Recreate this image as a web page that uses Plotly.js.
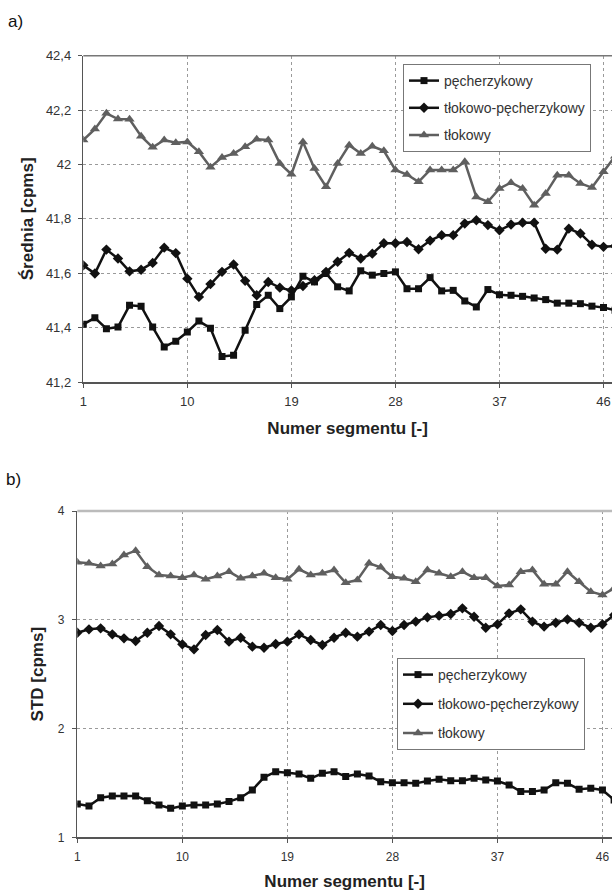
<!DOCTYPE html>
<html>
<head>
<meta charset="utf-8">
<script src="https://cdn.plot.ly/plotly-3.0.1.min.js"></script>
<style>html,body{margin:0;padding:0;background:#fff;}#chart{width:612px;height:892px;}</style>
</head>
<body>
<div id="chart"></div>
<script>
const segments = [1,2,3,4,5,6,7,8,9,10,11,12,13,14,15,16,17,18,19,20,21,22,23,24,25,26,27,28,29,30,31,32,33,34,35,36,37,38,39,40,41,42,43,44,45,46,47];
const seriesNames = ["pęcherzykowy", "tłokowo-pęcherzykowy", "tłokowy"];

// a) Średnia [cpms]
const meanPecherzykowy = [41.412,41.436,41.396,41.402,41.482,41.479,41.402,41.329,41.35,41.384,41.424,41.398,41.294,41.298,41.39,41.485,41.519,41.47,41.513,41.589,41.568,41.599,41.55,41.535,41.609,41.593,41.599,41.605,41.543,41.543,41.584,41.535,41.537,41.498,41.476,41.54,41.521,41.519,41.515,41.509,41.503,41.49,41.49,41.488,41.479,41.474,41.464];
const meanTlokowoPecherzykowy = [41.629,41.599,41.687,41.654,41.607,41.613,41.638,41.694,41.674,41.58,41.513,41.56,41.605,41.632,41.572,41.519,41.568,41.547,41.537,41.553,41.574,41.605,41.642,41.675,41.654,41.672,41.71,41.71,41.715,41.688,41.72,41.74,41.74,41.783,41.795,41.777,41.758,41.779,41.786,41.786,41.69,41.687,41.764,41.746,41.705,41.697,41.70];
const meanTlokowy = [42.09,42.13,42.188,42.167,42.166,42.104,42.063,42.09,42.08,42.083,42.047,41.99,42.026,42.04,42.065,42.093,42.09,42.004,41.964,42.083,41.985,41.918,42.004,42.071,42.04,42.067,42.05,41.98,41.963,41.936,41.98,41.98,41.98,42.01,41.88,41.863,41.912,41.933,41.912,41.85,41.893,41.96,41.96,41.93,41.915,41.973,42.03];

// b) STD [cpms]
const stdPecherzykowy = [1.306,1.288,1.364,1.38,1.38,1.38,1.337,1.297,1.266,1.288,1.297,1.297,1.306,1.328,1.364,1.435,1.551,1.603,1.594,1.582,1.542,1.588,1.603,1.56,1.582,1.564,1.511,1.502,1.502,1.496,1.518,1.533,1.521,1.521,1.542,1.527,1.518,1.481,1.42,1.42,1.435,1.502,1.496,1.441,1.45,1.435,1.343];
const stdTlokowoPecherzykowy = [2.881,2.912,2.921,2.866,2.829,2.805,2.881,2.943,2.866,2.774,2.728,2.86,2.906,2.799,2.835,2.753,2.743,2.777,2.799,2.866,2.814,2.768,2.835,2.88,2.845,2.891,2.952,2.897,2.952,2.983,3.022,3.038,3.053,3.105,3.028,2.927,2.958,3.059,3.096,2.983,2.937,2.973,3.004,2.973,2.927,2.958,3.044];
const stdTlokowy = [3.528,3.519,3.494,3.513,3.595,3.635,3.488,3.412,3.402,3.387,3.412,3.372,3.402,3.442,3.381,3.402,3.427,3.387,3.372,3.464,3.412,3.427,3.458,3.34,3.366,3.519,3.482,3.396,3.381,3.35,3.458,3.427,3.396,3.442,3.387,3.387,3.31,3.32,3.442,3.458,3.326,3.326,3.442,3.35,3.258,3.228,3.29];

const xTickVals = [1,10,19,28,37,46];
const xTickText = ["1","10","19","28","37","46"];
const meanTickVals = [41.2,41.4,41.6,41.8,42,42.2,42.4];
const meanTickText = ["41,2","41,4","41,6","41,8","42","42,2","42,4"];
const stdTickVals = [1,2,3,4];
const stdTickText = ["1","2","3","4"];

const FONT = "Arial, 'Liberation Sans', sans-serif";
const styles = [
  {color:"#111111", symbol:"square", size:7},
  {color:"#111111", symbol:"diamond", size:8},
  {color:"#5f5f5f", symbol:"triangle-up", size:9}
];

function mk(y, i, xa, ya, legend) {
  return {
    x: segments, y: y, name: seriesNames[i], type: "scatter", mode: "lines+markers",
    xaxis: xa, yaxis: ya, legend: legend, legendgroup: legend + i,
    line: {color: styles[i].color, width: 2.5},
    marker: {color: styles[i].color, symbol: styles[i].symbol, size: styles[i].size},
    cliponaxis: true
  };
}

const traces = [
  mk(meanPecherzykowy, 0, "x", "y", "legend"),
  mk(meanTlokowoPecherzykowy, 1, "x", "y", "legend"),
  mk(meanTlokowy, 2, "x", "y", "legend"),
  mk(stdPecherzykowy, 0, "x2", "y2", "legend2"),
  mk(stdTlokowoPecherzykowy, 1, "x2", "y2", "legend2"),
  mk(stdTlokowy, 2, "x2", "y2", "legend2")
];

const H = 892, W = 612;
const axCommon = {
  showgrid: true, gridcolor: "#9a9a9a", griddash: "dot", gridwidth: 1,
  showline: true, linecolor: "#555", linewidth: 1.5,
  ticks: "outside", ticklen: 4, tickcolor: "#555", tickwidth: 1,
  zeroline: false, fixedrange: true
};

const legendCommon = {
  xanchor: "left", yanchor: "top", bgcolor: "#fff", bordercolor: "#777", borderwidth: 1,
  font: {family: FONT, size: 14, color: "#333"}, traceorder: "grouped",
  itemwidth: 30
};

const layout = {
  width: W, height: H, margin: {l: 0, r: 0, t: 0, b: 0},
  paper_bgcolor: "#fff", plot_bgcolor: "#fff", showlegend: true,
  xaxis: Object.assign({}, axCommon, {
    domain: [83.3/W, 1], range: [1, 1 + (W - 83.3)/11.56], anchor: "y",
    tickmode: "array", tickvals: xTickVals, ticktext: xTickText,
    tickfont: {family: FONT, size: 13, color: "#333"}, ticklabelstandoff: 3,
    title: {text: "<b>Numer segmentu [-]</b>", font: {family: FONT, size: 17, color: "#222"}, standoff: 14}
  }),
  yaxis: Object.assign({}, axCommon, {
    domain: [1 - 382/H, 1 - 55.7/H], range: [41.2, 42.4], anchor: "x",
    tickmode: "array", tickvals: meanTickVals, ticktext: meanTickText,
    tickfont: {family: FONT, size: 13, color: "#333"}, ticklabelstandoff: 4,
    title: {text: "<b>Średnia [cpms]</b>", font: {family: FONT, size: 17, color: "#222"}, standoff: 8}
  }),
  xaxis2: Object.assign({}, axCommon, {
    domain: [77.3/W, 1], range: [1, 1 + (W - 77.3)/11.67], anchor: "y2",
    tickmode: "array", tickvals: xTickVals, ticktext: xTickText,
    tickfont: {family: FONT, size: 12, color: "#333"}, ticklabelstandoff: 4,
    title: {text: "<b>Numer segmentu [-]</b>", font: {family: FONT, size: 17, color: "#222"}, standoff: 12}
  }),
  yaxis2: Object.assign({}, axCommon, {
    domain: [1 - 837.3/H, 1 - 511/H], range: [1, 4], anchor: "x2",
    tickmode: "array", tickvals: stdTickVals, ticktext: stdTickText,
    tickfont: {family: FONT, size: 12, color: "#333"}, ticklabelstandoff: 5,
    title: {text: "<b>STD [cpms]</b>", font: {family: FONT, size: 17, color: "#222"}, standoff: 10}
  }),
  legend: Object.assign({}, legendCommon, {x: 403/W, y: 1 - 64/H, tracegroupgap: 6}),
  legend2: Object.assign({}, legendCommon, {x: 397/W, y: 1 - 658/H, tracegroupgap: 8}),
  shapes: [
    {type: "line", xref: "x domain", yref: "y domain", x0: 0, x1: 1, y0: 1, y1: 1, line: {color: "#777", width: 1.5}},
    {type: "line", xref: "x2 domain", yref: "y2 domain", x0: 0, x1: 1, y0: 1, y1: 1, line: {color: "#bbb", width: 2.5}}
  ],
  annotations: [
    {text: "a)", xref: "paper", yref: "paper", x: 6/W, y: 1 - 10/H, xanchor: "left", yanchor: "top", showarrow: false, font: {family: FONT, size: 17, color: "#111"}},
    {text: "b)", xref: "paper", yref: "paper", x: 4/W, y: 1 - 468/H, xanchor: "left", yanchor: "top", showarrow: false, font: {family: FONT, size: 17, color: "#111"}}
  ]
};

Plotly.newPlot("chart", traces, layout, {displayModeBar: false, staticPlot: true});
</script>
</body>
</html>
